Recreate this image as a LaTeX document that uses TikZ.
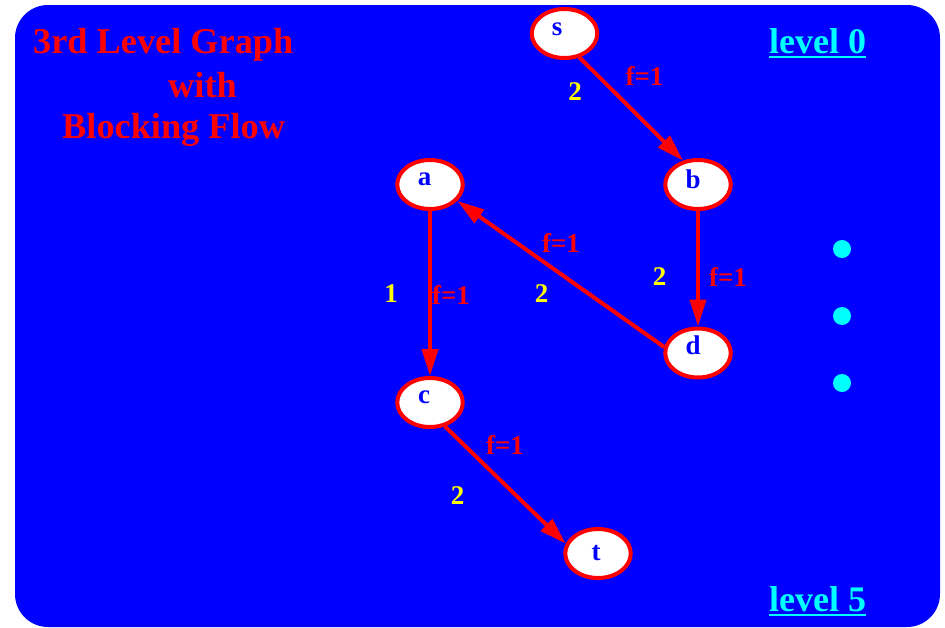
\documentclass[tikz,border=0pt]{standalone}
\usepackage{fontspec}
\setmainfont{Liberation Serif}
\usetikzlibrary{arrows.meta,shapes.geometric}
\definecolor{bgblue}{RGB}{0,0,255}
\definecolor{gred}{RGB}{255,0,0}
\definecolor{gyellow}{RGB}{255,255,0}
\definecolor{gcyan}{RGB}{0,255,255}
\begin{document}
\begin{tikzpicture}[x=1pt,y=-1pt,
  vertex/.style={ellipse,draw=gred,fill=white,line width=4pt,minimum width=65.5pt,minimum height=49pt,inner sep=0pt},
  vlbl/.style={text=bgblue,font=\fontsize{27}{32}\selectfont\bfseries,inner sep=0pt},
  edgearrow/.style={draw=gred,line width=4pt,-{Triangle[length=27pt,width=16pt]}},
  flowlbl/.style={text=gred,font=\fontsize{27}{32}\selectfont\bfseries,inner sep=0pt},
  caplbl/.style={text=gyellow,font=\fontsize{27}{32}\selectfont\bfseries,inner sep=0pt},
  titletext/.style={text=gred,font=\fontsize{36.3}{43}\selectfont\bfseries,inner sep=0pt,anchor=base west},
  leveltext/.style={text=gcyan,font=\fontsize{36}{43}\selectfont\bfseries,inner sep=0pt,anchor=base west},
  dotmark/.style={circle,fill=gcyan,minimum size=18pt,inner sep=0pt}]

\useasboundingbox (0,0) rectangle (945,627);
\fill[white] (0,0) rectangle (945,627);
\fill[bgblue,rounded corners=33pt] (15,5) rectangle (940,627);

% title
\node[titletext] (t1) at (33,53) {3rd Level Graph};
\node[titletext] (t2) at (168,97) {with};
\node[titletext] (t3) at (62,138) {Blocking Flow};

% level labels
\node[leveltext] (lv0) at (769,53) {level 0};
\draw[gcyan,line width=2pt] ([yshift=-4pt]lv0.base west) -- ([yshift=-4pt]lv0.base east);
\node[leveltext] (lv5) at (769,611) {level 5};
\draw[gcyan,line width=2pt] ([yshift=-4pt]lv5.base west) -- ([yshift=-4pt]lv5.base east);

% vertices
\node[vertex,label={[vlbl,xshift=-7.5pt,yshift=4pt]center:s}] (s) at (564.5,33.5) {};
\node[vertex,label={[vlbl,xshift=-5.5pt,yshift=5pt]center:a}] (a) at (430,184.5) {};
\node[vertex,label={[vlbl,xshift=-5pt,yshift=5.5pt]center:b}] (b) at (698,184.5) {};
\node[vertex,label={[vlbl,xshift=-5pt,yshift=7.5pt]center:d}] (d) at (698,353) {};
\node[vertex,label={[vlbl,xshift=-6pt,yshift=5.5pt]center:c}] (c) at (430,402.5) {};
\node[vertex,label={[vlbl,xshift=-2pt,yshift=0pt]center:t}] (t) at (598,553.5) {};

% edges
\draw[edgearrow] (s.-58) -- (b.122);
\draw[edgearrow] (b) -- (d);
\draw[edgearrow] (a) -- (c);
\draw[edgearrow] (d.170) -- (a.-31);
\draw[edgearrow] (c.-58.5) -- (t.163);

% edge labels
\node[caplbl] (csb) at (575,92) {2};
\node[flowlbl] (fsb) at (644.5,76) {f=1};
\node[caplbl] (cac) at (391,294) {1};
\node[flowlbl] (fac) at (451,295) {f=1};
\node[flowlbl] (fda) at (561,243) {f=1};
\node[caplbl] (cda) at (541.5,294) {2};
\node[caplbl] (cbd) at (659.5,277) {2};
\node[flowlbl] (fbd) at (728,277) {f=1};
\node[flowlbl] (fct) at (505,445) {f=1};
\node[caplbl] (cct) at (457.5,496) {2};

% dots
\node[dotmark] (dot1) at (842,249) {};
\node[dotmark] (dot2) at (842,316) {};
\node[dotmark] (dot3) at (842,383) {};
\end{tikzpicture}
\end{document}
